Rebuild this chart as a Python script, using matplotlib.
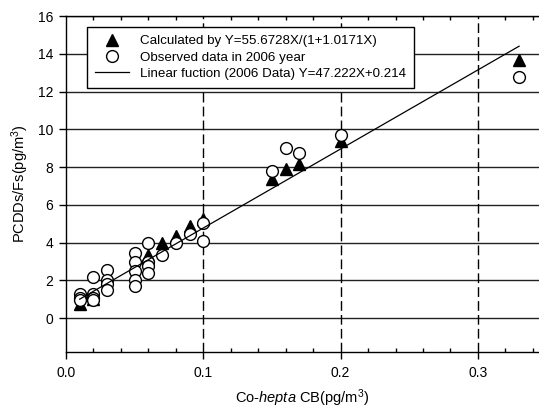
import matplotlib.pyplot as plt
from matplotlib.ticker import MultipleLocator

plt.rcParams['font.family'] = ['Liberation Sans', 'DejaVu Sans']
plt.rcParams['mathtext.fontset'] = 'custom'
plt.rcParams['mathtext.rm'] = 'Liberation Sans'
plt.rcParams['mathtext.it'] = 'Liberation Sans:italic'

# calculated values (filled triangles)
calc_x = [0.01, 0.02, 0.06, 0.07, 0.08, 0.09, 0.10, 0.15, 0.16, 0.17, 0.20, 0.33]
calc_y = [0.75, 1.00, 3.35, 3.95, 4.35, 4.90, 5.25, 7.38, 7.91, 8.14, 9.38, 13.69]

# observed data in 2006 (open circles)
obs_x = [0.01, 0.01, 0.01,
         0.02, 0.02, 0.02, 0.02,
         0.03, 0.03, 0.03, 0.03,
         0.05, 0.05, 0.05, 0.05, 0.05,
         0.06, 0.06, 0.06, 0.06,
         0.07, 0.08, 0.09, 0.10, 0.10,
         0.15, 0.16, 0.17, 0.20, 0.33]
obs_y = [1.27, 1.05, 0.95,
         2.17, 1.25, 1.07, 0.97,
         2.55, 2.02, 1.80, 1.48,
         3.42, 2.99, 2.51, 2.02, 1.70,
         3.97, 2.99, 2.73, 2.41,
         3.35, 3.97, 4.45, 5.04, 4.06,
         7.78, 8.99, 8.76, 9.68, 12.77]

# linear function line endpoints
line_x = [0.01, 0.33]
line_y = [1.0, 14.4]

fig = plt.figure(figsize=(5.39, 4.08), dpi=100)
ax = fig.add_axes([66 / 539, 56 / 408, 473 / 539, 336 / 408])

for y in range(0, 17, 2):
    ax.axhline(y, color='#222222', lw=1.0, zorder=1)
for x in [0.1, 0.2, 0.3]:
    ax.axvline(x, color='black', lw=1.0, dashes=(7, 3), zorder=1)

ax.plot(calc_x, calc_y, linestyle='none', marker='^', ms=8, color='black',
        zorder=3, label='Calculated by Y=55.6728X/(1+1.0171X)')
ax.plot(obs_x, obs_y, linestyle='none', marker='o', ms=8.5, mfc='white',
        mec='black', mew=1.0, zorder=4, label='Observed data in 2006 year')
ax.plot(line_x, line_y, color='black', lw=0.9, zorder=5,
        label='Linear fuction (2006 Data) Y=47.222X+0.214')

ax.set_xlim(0, 0.3445)
ax.set_ylim(-1.8, 16)
ax.xaxis.set_major_locator(MultipleLocator(0.1))
ax.xaxis.set_minor_locator(MultipleLocator(0.02))
ax.yaxis.set_major_locator(MultipleLocator(2))
ax.xaxis.set_major_formatter(plt.FuncFormatter(lambda v, p: f'{v:.1f}'))

ax.spines['right'].set_visible(False)
for s in ['left', 'bottom', 'top']:
    ax.spines[s].set_linewidth(1.0)
ax.tick_params(axis='x', which='major', direction='out', length=5, width=1,
               labelsize=10, pad=5, top=False)
ax.tick_params(axis='x', which='minor', direction='in', length=3, width=1,
               top=True)
ax.tick_params(axis='y', which='major', direction='out', length=5, width=1,
               labelsize=10, pad=4)

ax.set_xlabel('Co-$\\mathit{hepta}$ CB(pg/m$^3$)', fontsize=10.5)
ax.xaxis.set_label_coords(0.5, -0.104)
ax.set_ylabel('PCDDs/Fs(pg/m$^3$)', fontsize=10.5, labelpad=5)

leg = ax.legend(loc='upper left', bbox_to_anchor=(0.044, 0.967),
                borderaxespad=0, fancybox=False, edgecolor='black',
                framealpha=1, fontsize=9.6, handlelength=2.6,
                handletextpad=0.8, labelspacing=0.3, borderpad=0.6)
leg.get_frame().set_linewidth(1.0)
leg.set_zorder(10)

fig.savefig('out.png', dpi=100)
